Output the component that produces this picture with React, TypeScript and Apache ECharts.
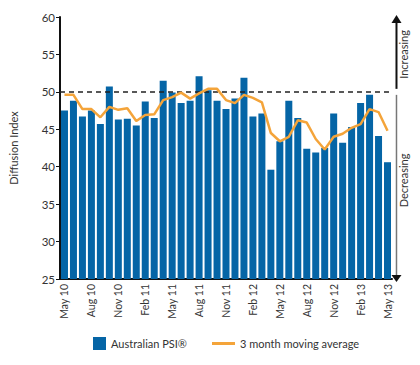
import React, { useEffect, useRef } from "react";
import * as echarts from "echarts";

const categories = [
  "May 10", "Jun 10", "Jul 10", "Aug 10", "Sep 10", "Oct 10", "Nov 10", "Dec 10", "Jan 11",
  "Feb 11", "Mar 11", "Apr 11", "May 11", "Jun 11", "Jul 11", "Aug 11", "Sep 11", "Oct 11",
  "Nov 11", "Dec 11", "Jan 12", "Feb 12", "Mar 12", "Apr 12", "May 12", "Jun 12", "Jul 12",
  "Aug 12", "Sep 12", "Oct 12", "Nov 12", "Dec 12", "Jan 13", "Feb 13", "Mar 13", "Apr 13", "May 13",
];

const psi = [
  47.5, 48.8, 46.7, 47.5, 45.7, 50.7, 46.3, 46.4, 45.5, 48.7, 46.5, 51.5, 49.9, 48.5, 48.8,
  52.1, 50.2, 48.8, 47.7, 49.1, 51.9, 46.7, 47.1, 39.6, 43.4, 48.8, 46.5, 42.4, 41.9, 42.5,
  47.1, 43.2, 45.3, 48.5, 49.6, 44.1, 40.6,
];

const movingAvg = [
  49.6, 49.6, 47.7, 47.7, 46.6, 48.0, 47.6, 47.8, 46.1, 46.9, 47.0, 48.9, 49.3, 49.9, 49.1,
  49.8, 50.4, 50.4, 48.9, 48.5, 49.6, 49.2, 48.6, 44.5, 43.4, 44.0, 46.2, 45.9, 43.7, 42.3,
  44.0, 44.4, 45.2, 45.7, 47.7, 47.3, 44.8,
];

const yMin = 25;
const yMax = 60;
const yStep = 5;
const threshold = 50;

const FONT = "Lato";
const TEXT = "#333333";
const BLUE = "#0565a6";
const ORANGE = "#f4a43a";

export default function App() {
  const ref = useRef<HTMLDivElement>(null);

  useEffect(() => {
    const chart = echarts.init(ref.current!, null, { renderer: "svg" });
    chart.setOption({
      animation: false,
      textStyle: { fontFamily: FONT },
      grid: { left: 60, top: 17, width: 332, height: 262 },
      legend: [
        {
          data: ["Australian PSI®"],
          left: 93,
          top: 337,
          padding: 0,
          icon: "rect",
          itemWidth: 13,
          itemHeight: 13,
          textStyle: { fontFamily: FONT, fontSize: 11, color: TEXT },
        },
        {
          data: ["3 month moving average"],
          left: 212,
          top: 337,
          padding: 0,
          icon: "rect",
          itemWidth: 23,
          itemHeight: 3,
          textStyle: { fontFamily: FONT, fontSize: 11, color: TEXT, lineHeight: 13 },
        },
      ],
      xAxis: {
        type: "category",
        data: categories,
        boundaryGap: true,
        axisLine: { lineStyle: { color: "#111", width: 2 } },
        axisTick: { show: false },
        axisLabel: {
          interval: 2,
          rotate: 90,
          fontSize: 10.5,
          color: TEXT,
          margin: 5,
          fontFamily: FONT,
        },
      },
      yAxis: {
        type: "value",
        min: yMin,
        max: yMax,
        interval: yStep,
        name: "Diffusion Index",
        nameLocation: "middle",
        nameGap: 41,
        nameTextStyle: { fontSize: 11, color: TEXT, fontFamily: FONT },
        axisLine: { show: true, lineStyle: { color: "#111", width: 2 } },
        axisTick: { show: true, length: 4, lineStyle: { color: "#111" } },
        axisLabel: { fontSize: 11.5, color: TEXT, margin: 5, fontFamily: FONT },
        splitLine: { show: false },
      },
      series: [
        {
          name: "Australian PSI®",
          type: "bar",
          data: psi,
          barWidth: 7,
          itemStyle: { color: BLUE },
          markLine: {
            silent: true,
            symbol: "none",
            label: { show: false },
            lineStyle: { color: "#222", type: [5, 4], width: 1.5 },
            data: [{ yAxis: threshold }],
          },
        },
        {
          name: "3 month moving average",
          type: "line",
          data: movingAvg,
          symbol: "none",
          lineStyle: { color: ORANGE, width: 2.5 },
          itemStyle: { color: ORANGE },
          z: 5,
        },
      ],
    });

    const lastX = chart.convertToPixel({ xAxisIndex: 0 }, categories[categories.length - 1]) as number;
    const prevX = chart.convertToPixel({ xAxisIndex: 0 }, categories[categories.length - 2]) as number;
    const ax = lastX + (lastX - prevX);
    const yTop = chart.convertToPixel({ yAxisIndex: 0 }, yMax) as number;
    const yMid = chart.convertToPixel({ yAxisIndex: 0 }, threshold) as number;
    const yBot = chart.convertToPixel({ yAxisIndex: 0 }, yMin) as number;

    chart.setOption({
      graphic: [
        {
          type: "line",
          shape: { x1: ax, y1: yTop + 5, x2: ax, y2: yMid - 3 },
          style: { stroke: "#111", lineWidth: 2 },
        },
        {
          type: "polygon",
          shape: { points: [[ax, yTop - 2], [ax - 5, yTop + 6], [ax + 5, yTop + 6]] },
          style: { fill: "#111" },
        },
        {
          type: "line",
          shape: { x1: ax, y1: yMid + 3, x2: ax, y2: yBot - 4 },
          style: { stroke: "#777", lineWidth: 1.5 },
        },
        {
          type: "polygon",
          shape: { points: [[ax - 5, yBot - 4], [ax + 5, yBot - 4], [ax, yBot + 3]] },
          style: { fill: "#111" },
        },
        {
          type: "text",
          x: ax + 7,
          y: (yTop + yMid) / 2,
          rotation: Math.PI / 2,
          style: {
            text: "Increasing",
            fill: TEXT,
            font: `11px ${FONT}`,
            align: "center",
            verticalAlign: "middle",
          },
        },
        {
          type: "text",
          x: ax + 7,
          y: (yMid + yBot) / 2 - 5,
          rotation: Math.PI / 2,
          style: {
            text: "Decreasing",
            fill: TEXT,
            font: `11px ${FONT}`,
            align: "center",
            verticalAlign: "middle",
          },
        },
      ],
    });

    return () => chart.dispose();
  }, []);

  return (
    <div
      ref={ref}
      style={{ position: "absolute", left: 0, top: 0, width: 420, height: 365 }}
    />
  );
}
